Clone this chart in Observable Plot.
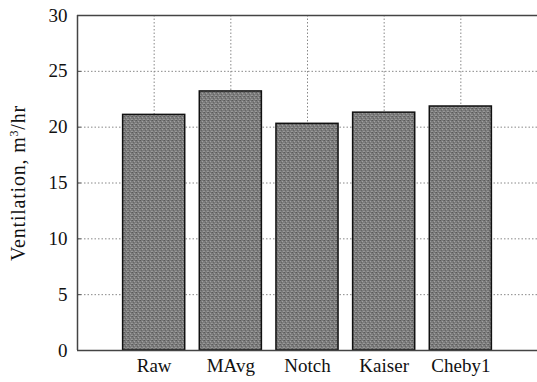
<!DOCTYPE html>
<html>
<head>
<meta charset="utf-8">
<script src="https://cdn.jsdelivr.net/npm/d3@7"></script>
<script src="https://cdn.jsdelivr.net/npm/@observablehq/plot@0.6"></script>
<style>
  html, body { margin: 0; padding: 0; background: #fff; }
  #chart svg { display: block; }
</style>
</head>
<body>
<div id="chart"></div>
<script>
const categories = ["Raw", "MAvg", "Notch", "Kaiser", "Cheby1"];
const ventilation = [21.1, 23.2, 20.3, 21.3, 21.85];
const yTicks = [0, 5, 10, 15, 20, 25, 30];
const yLabel = "Ventilation, m³/hr";

const data = categories.map((c, i) => ({ name: c, pos: i + 1, value: ventilation[i] }));
const half = 0.405;
const serif = "\"Liberation Serif\", \"Times New Roman\", Times, \"DejaVu Serif\", serif";

const chart = Plot.plot({
  width: 537,
  height: 382,
  marginLeft: 77,
  marginRight: 0,
  marginTop: 15,
  marginBottom: 32,
  style: { fontFamily: serif, background: "#fff", color: "#111" },
  x: { type: "linear", domain: [0, 6], axis: null },
  y: { type: "linear", domain: [0, 30], axis: null },
  marks: [
    Plot.gridY(yTicks.slice(1, -1), { stroke: "#888", strokeOpacity: 1, strokeDasharray: "1.5,2", strokeWidth: 1 }),
    Plot.gridX(data.map(d => d.pos), { stroke: "#888", strokeOpacity: 1, strokeDasharray: "1.5,2", strokeWidth: 1 }),
    Plot.rectY(data, {
      x1: d => d.pos - half, x2: d => d.pos + half, y1: 0, y2: "value",
      fill: "url(#stipple)", stroke: "#111", strokeWidth: 1.5
    }),
    Plot.ruleX([0], { stroke: "#444", strokeWidth: 1.5 }),
    Plot.ruleY([0], { stroke: "#444", strokeWidth: 1.5 }),
    Plot.ruleY([30], { stroke: "#444", strokeWidth: 1.5 }),
    Plot.ruleY(yTicks.slice(1, -1), { x1: 0, x2: 0.05, stroke: "#444", strokeWidth: 1 }),
    Plot.axisY(yTicks, { anchor: "left", tickSize: 0, tickPadding: 10, fontSize: 19, fill: "#111", label: null }),
    Plot.axisX(data.map(d => d.pos), { anchor: "bottom", tickSize: 0, tickPadding: 8, fontSize: 19, fill: "#111", label: null,
      tickFormat: p => categories[p - 1] }),
    Plot.text([yLabel], {
      frameAnchor: "left", textAnchor: "middle", dx: -59, dy: 0, rotate: -90,
      text: d => d, fontSize: 19, fill: "#111"
    })
  ]
});
const svg = d3.select(chart);
// stipple texture for bar fill (styling only)
const defs = svg.insert("defs", ":first-child");
const pat = defs.append("pattern").attr("id", "stipple").attr("patternUnits", "userSpaceOnUse")
  .attr("width", 4).attr("height", 4);
pat.append("rect").attr("width", 4).attr("height", 4).attr("fill", "#7c7c7c");
[[0,0,"#5a5a5a"],[2,1,"#a0a0a0"],[1,2,"#666"],[3,3,"#9a9a9a"],[3,0,"#6a6a6a"],[0,3,"#959595"]]
  .forEach(([x, y, c]) => pat.append("rect").attr("x", x).attr("y", y).attr("width", 1).attr("height", 1).attr("fill", c));

svg.selectAll("text").each(function () {
  const t = d3.select(this);
  const isLabel = this.textContent === yLabel;
  t.attr("font-family", serif).style("font-family", serif).style("font-size", isLabel ? "20px" : "19px");
  if (isLabel) {
    t.attr("text-anchor", "middle").style("letter-spacing", "0.8px");
    t.text(null);
    t.append("tspan").text("Ventilation, m");
    t.append("tspan").attr("baseline-shift", "super").style("font-size", "12px").text("3");
    t.append("tspan").text("/hr");
  }
});
document.getElementById("chart").appendChild(chart);
</script>
</body>
</html>
